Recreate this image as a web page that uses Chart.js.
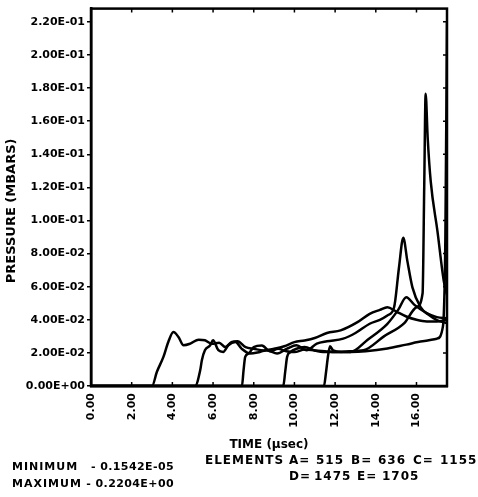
<!DOCTYPE html>
<html><head><meta charset="utf-8">
<script src="https://cdn.jsdelivr.net/npm/chart.js@4"></script>
<style>html,body{margin:0;padding:0;background:#fff}#wrap{width:478px;height:497px}</style>
</head><body><div id="wrap"><canvas id="c" width="478" height="497"></canvas></div>
<script>
// ---- data ----
const xTicks = [0, 2, 4, 6, 8, 10, 12, 14, 16];
const xTickLabels = ['0.00', '2.00', '4.00', '6.00', '8.00', '10.00', '12.00', '14.00', '16.00'];
const yTicks = [0, 0.02, 0.04, 0.06, 0.08, 0.10, 0.12, 0.14, 0.16, 0.18, 0.20, 0.22];
const yTickLabels = ['0.00E+00', '2.00E-02', '4.00E-02', '6.00E-02', '8.00E-02', '1.00E-01',
  '1.20E-01', '1.40E-01', '1.60E-01', '1.80E-01', '2.00E-01', '2.20E-01'];

const elementNames = ['A', 'B', 'C', 'D', 'E'];
const elementIds = [515, 636, 1155, 1475, 1705];

const timeA = [0, 3.0, 3.24, 3.56, 3.8, 4.05, 4.3, 4.55, 4.88, 5.29, 5.6, 5.95, 6.3, 6.6, 6.9, 7.2, 7.6, 8.0, 8.5, 9.0, 9.5, 10.0, 10.5, 11.0, 11.6, 12.27, 13.1, 13.7, 14.2, 14.57, 15.0, 15.5, 16.0, 16.5, 17.0, 17.5];
const presA = [0, 0, 0.0086, 0.0176, 0.0266, 0.0326, 0.0296, 0.0246, 0.0256, 0.028, 0.0276, 0.0255, 0.0262, 0.0235, 0.0265, 0.027, 0.0235, 0.0225, 0.0215, 0.0225, 0.024, 0.0265, 0.0275, 0.029, 0.032, 0.0336, 0.0386, 0.0436, 0.046, 0.0476, 0.045, 0.042, 0.040, 0.039, 0.039, 0.040];

const timeB = [0, 5.12, 5.37, 5.45, 5.6, 5.86, 6.0, 6.26, 6.5, 6.75, 7.1, 7.4, 7.83, 8.3, 8.65, 9.15, 9.64, 10.1, 10.6, 11.1, 11.6, 12.4, 13.0, 13.7, 14.2, 14.57, 14.9, 15.14, 15.35, 15.55, 15.8, 16.2, 16.6, 17.03, 17.5];
const presB = [0, 0, 0.0096, 0.0156, 0.0216, 0.0246, 0.0276, 0.0216, 0.0206, 0.0246, 0.0266, 0.0226, 0.0196, 0.0206, 0.0216, 0.0196, 0.0226, 0.0246, 0.0216, 0.0256, 0.027, 0.0286, 0.032, 0.0376, 0.040, 0.0426, 0.0476, 0.0716, 0.0896, 0.0756, 0.0596, 0.0476, 0.043, 0.0396, 0.038];

const timeC = [0, 7.42, 7.5, 7.58, 7.75, 8.0, 8.4, 8.8, 9.2, 9.6, 10.0, 10.5, 11.0, 11.5, 12.0, 12.7, 13.4, 14.4, 15.4, 16.0, 16.3, 16.38, 16.45, 16.55, 16.7, 17.03, 17.34, 17.5];
const presC = [0, 0, 0.0096, 0.0176, 0.0196, 0.0235, 0.0245, 0.021, 0.0225, 0.021, 0.0205, 0.022, 0.0215, 0.021, 0.0205, 0.021, 0.0216, 0.030, 0.038, 0.0476, 0.056, 0.12, 0.1766, 0.15, 0.1236, 0.0936, 0.0636, 0.055];

const timeD = [0, 9.45, 9.55, 9.64, 9.8, 10.1, 10.5, 11.0, 11.5, 12.0, 12.76, 13.6, 14.57, 15.1, 15.5, 15.9, 16.5, 17.0, 17.5];
const presD = [0, 0, 0.009, 0.0176, 0.0205, 0.0225, 0.0235, 0.0215, 0.0205, 0.0205, 0.0206, 0.028, 0.0376, 0.046, 0.0536, 0.049, 0.044, 0.0416, 0.041];

const timeE = [0, 11.45, 11.55, 11.65, 11.75, 11.9, 12.3, 12.76, 13.5, 14.57, 15.5, 16.3, 17.0, 17.3, 17.42, 17.5];
const presE = [0, 0, 0.008, 0.018, 0.024, 0.0215, 0.0206, 0.0206, 0.021, 0.0226, 0.025, 0.027, 0.0286, 0.036, 0.09, 0.2204];

const minimumLabel = 'MINIMUM', minimumValue = '- 0.1542E-05';
const maximumLabel = 'MAXIMUM', maximumValue = '- 0.2204E+00';
const xTitle = 'TIME (µsec)';
const yTitle = 'PRESSURE (MBARS)';

// ---- build ----
const times = [timeA, timeB, timeC, timeD, timeE];
const pres = [presA, presB, presC, presD, presE];
const FONT = 'DejaVu Sans';

const datasets = elementNames.map((n, k) => ({
  label: n + '= ' + elementIds[k],
  data: times[k].map((t, i) => ({ x: t, y: pres[k][i] })),
  borderColor: '#000',
  borderWidth: 2.5,
  pointRadius: 0,
  fill: false,
  cubicInterpolationMode: 'monotone'
}));

const framePlugin = {
  id: 'frame',
  afterDraw(chart) {
    const ctx = chart.ctx, a = chart.chartArea;
    const xs = chart.scales.x, ys = chart.scales.y;
    ctx.save();
    ctx.strokeStyle = '#000';
    ctx.lineWidth = 2.5;
    ctx.strokeRect(a.left, a.top, a.right - a.left, a.bottom - a.top);
    ctx.lineWidth = 1.5;
    ctx.beginPath();
    xTicks.forEach(v => {
      const px = xs.getPixelForValue(v);
      ctx.moveTo(px, a.bottom); ctx.lineTo(px, a.bottom - 4);
      ctx.moveTo(px, a.top); ctx.lineTo(px, a.top + 4);
    });
    yTicks.forEach(v => {
      const py = ys.getPixelForValue(v);
      ctx.moveTo(a.right, py); ctx.lineTo(a.right - 4, py);
    });
    ctx.stroke();

    // footer text
    ctx.fillStyle = '#000';
    ctx.textBaseline = 'middle';
    ctx.font = 'bold 11px "' + FONT + '"';
    ctx.textAlign = 'left';
    try { ctx.letterSpacing = '1px'; } catch (e) {}
    ctx.fillText(minimumLabel, 12, 467);
    ctx.fillText(maximumLabel, 12, 484);
    try { ctx.letterSpacing = '0.4px'; } catch (e) {}
    ctx.textAlign = 'right';
    ctx.fillText(minimumValue, 174, 467);
    ctx.fillText(maximumValue, 174, 484);

    ctx.textAlign = 'left';
    try { ctx.letterSpacing = '1px'; } catch (e) {}
    ctx.font = 'bold 12px "' + FONT + '"';
    ctx.fillText('ELEMENTS', 205, 461);
    const row1 = [[0, 289], [1, 351], [2, 413]];
    row1.forEach(([k, x]) => {
      ctx.fillText(elementNames[k] + '=', x, 461);
      ctx.fillText(String(elementIds[k]), x + 27, 461);
    });
    const row2 = [[3, 289], [4, 357]];
    row2.forEach(([k, x]) => {
      ctx.fillText(elementNames[k] + '=', x, 477);
      ctx.fillText(String(elementIds[k]), x + 25, 477);
    });
    ctx.restore();
  }
};

new Chart(document.getElementById('c'), {
  type: 'line',
  data: { datasets },
  options: {
    responsive: false,
    animation: false,
    devicePixelRatio: 1,
    layout: { padding: { top: 6, right: 31, bottom: 45, left: 0 } },
    plugins: { legend: { display: false }, tooltip: { enabled: false } },
    scales: {
      x: {
        type: 'linear', min: 0, max: 17.5,
        afterBuildTicks: s => { s.ticks = xTicks.map(v => ({ value: v })); },
        afterFit: s => { s.height = 66; },
        ticks: {
          autoSkip: false, minRotation: 90, maxRotation: 90, padding: 7, color: '#000',
          font: { family: FONT, weight: 'bold', size: 11 },
          callback: (v, i) => xTickLabels[i]
        },
        grid: { display: false, drawTicks: false },
        border: { display: true, color: '#000', width: 2.5 },
        title: { display: true, text: xTitle, color: '#000', padding: 0,
          font: { family: FONT, weight: 'bold', size: 12 } }
      },
      y: {
        type: 'linear', min: 0, max: 0.228,
        afterBuildTicks: s => { s.ticks = yTicks.map(v => ({ value: v })); },
        afterFit: s => { s.width = 91; },
        ticks: {
          padding: 2, color: '#000',
          font: { family: FONT, weight: 'bold', size: 11 },
          callback: (v, i) => yTickLabels[i]
        },
        grid: { drawOnChartArea: false, tickLength: 4, color: '#000', lineWidth: 1.5 },
        border: { display: true, color: '#000', width: 2.5 },
        title: { display: true, text: yTitle + '      ', color: '#000', padding: 4,
          font: { family: FONT, weight: 'bold', size: 13 } }
      }
    }
  },
  plugins: [framePlugin]
});
</script>
</body></html>
